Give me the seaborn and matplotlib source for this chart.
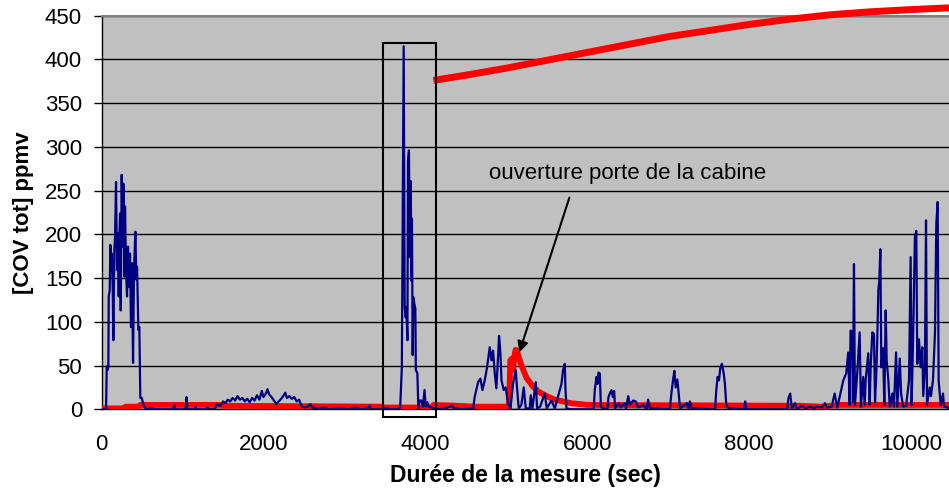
import pandas as pd
import matplotlib.pyplot as plt
import matplotlib.patches as patches
import seaborn as sns

# === DATA ===
# measured COV signal (blue), time in seconds
blue_t = [
    0, 56, 64, 76, 84, 89, 101, 109, 117, 126,
    138, 146, 158, 167, 179, 191, 204, 212, 220, 229,
    237, 249, 262, 270, 282, 290, 303, 315, 327, 340,
    352, 364, 377, 389, 401, 418, 430, 439, 447, 455,
    467, 479, 496, 513, 529, 558,
    600, 700, 880, 900, 910, 1040, 1050, 1060, 1150, 1160,
    1170, 1300, 1310, 1320, 1400, 1430, 1470, 1500, 1530, 1560,
    1590, 1620, 1650, 1680, 1710, 1740, 1770, 1800, 1830, 1860,
    1890, 1920, 1950, 1980, 2000, 2030, 2050, 2070, 2100, 2130,
    2160, 2190, 2220, 2250, 2270, 2290, 2320, 2350, 2380, 2410,
    2440, 2470, 2500, 2550, 2580, 2600, 2700, 2750, 2800, 2950,
    3050, 3150, 3200, 3280, 3310, 3330, 3450, 3500, 3600, 3680,
    3690, 3710, 3733, 3745, 3758, 3766, 3779, 3786, 3798, 3807,
    3820, 3828, 3835, 3844, 3852, 3864, 3877, 3883, 3902, 3914,
    3931, 3951, 3971, 3990, 4005, 4025, 4042, 4080, 4150, 4250,
    4330, 4360, 4450, 4560, 4590,
    4610, 4652, 4681, 4706, 4734, 4763, 4796, 4817, 4837, 4858,
    4878, 4899, 4911, 4928, 4941, 4969, 4993, 5022, 5052, 5084,
    5117, 5133, 5154, 5187, 5216, 5241, 5290, 5303, 5323, 5365,
    5381, 5418, 5476, 5500, 5558, 5600, 5682, 5702, 5723, 5731,
    5744,
    5800, 6080, 6094, 6115, 6127, 6139, 6156, 6169, 6190, 6250,
    6263, 6280, 6300, 6317, 6333, 6345, 6391, 6411, 6465, 6480,
    6507, 6527, 6568, 6600, 6630, 6692, 6733, 6753, 6774, 7020,
    7040, 7060, 7077, 7093, 7114, 7134, 7148, 7230, 7250, 7269,
    7290, 7580, 7595, 7611, 7628, 7644, 7664, 7685, 7701, 7718,
    7746, 7940, 7952, 7964, 8470, 8487, 8508, 8528, 8570, 8590,
    8652, 8700, 8755, 8800, 8835, 8900, 8937, 8960, 9020,
    9057, 9090, 9164, 9200, 9225, 9242, 9254, 9275, 9283, 9296,
    9308, 9336, 9366, 9382, 9410, 9428, 9440, 9461, 9473, 9490,
    9502, 9523, 9543, 9556, 9572, 9584, 9597, 9609, 9622, 9634,
    9655, 9671, 9688, 9700, 9721, 9738, 9770, 9790, 9816, 9832,
    9862, 9878, 9903, 9940, 9976, 9996, 10008, 10025, 10049, 10066,
    10078, 10099, 10119, 10140, 10152, 10173, 10186, 10198, 10231, 10247,
    10272, 10297, 10313, 10330, 10342, 10367, 10396, 10408, 10450, 10470,
]
blue_ppm = [
    0, 0, 49, 45, 49, 129, 136, 188, 159, 178,
    139, 79, 182, 197, 260, 159, 201, 129, 197, 224,
    113, 268, 186, 258, 152, 232, 159, 129, 186, 140,
    178, 94, 167, 53, 159, 203, 148, 163, 129, 91,
    94, 13, 13, 7, 3, 0,
    1, 0, 0, 5, 0, 0, 14, 0, 0, 3,
    0, 0, 2, 0, 0, 6, 4, 9, 7, 11,
    9, 13, 10, 15, 11, 13, 9, 12, 8, 13,
    10, 16, 11, 21, 14, 18, 23, 17, 14, 10,
    6, 9, 12, 16, 19, 13, 15, 12, 14, 9,
    11, 4, 2, 3, 6, 2, 1, 2, 0, 1,
    0, 2, 0, 1, 4, 0, 0, 1, 0, 0,
    3, 48, 415, 117, 105, 117, 79, 284, 296, 174,
    261, 147, 218, 62, 128, 121, 115, 45, 41, 1,
    10, 10, 3, 22, 3, 8, 3, 2, 0, 1,
    4, 1, 0, 1, 0,
    14, 31, 35, 22, 33, 48, 71, 56, 67, 41,
    24, 60, 84, 64, 33, 22, 25, 7, 1, 29,
    45, 25, 1, 5, 25, 1, 1, 16, 1, 31,
    1, 3, 18, 1, 10, 1, 29, 45, 52, 25,
    1,
    0, 0, 22, 37, 29, 42, 41, 3, 1, 0,
    14, 18, 22, 14, 21, 1, 7, 2, 7, 1,
    15, 5, 10, 9, 2, 5, 0, 11, 1, 0,
    18, 33, 44, 25, 34, 14, 1, 7, 1, 9,
    1, 0, 22, 37, 33, 47, 52, 42, 30, 5,
    1, 0, 9, 0, 0, 13, 18, 1, 7, 0,
    4, 1, 3, 1, 3, 2, 7, 2, 3,
    18, 2, 33, 41, 65, 5, 90, 88, 8, 166,
    5, 41, 88, 3, 37, 5, 33, 52, 64, 5,
    48, 88, 86, 8, 41, 81, 136, 147, 183, 48,
    70, 5, 113, 56, 33, 3, 18, 3, 65, 3,
    58, 18, 3, 4, 33, 174, 5, 75, 197, 204,
    52, 80, 48, 71, 15, 48, 216, 5, 25, 15,
    33, 88, 212, 237, 33, 5, 18, 3, 2, 1,
]

# red series near the floor, with the door-opening peak
red_low_t = [0, 260, 300, 460, 480, 1450, 1500, 3450, 3500, 4080, 4100, 4400, 4600,
             5030, 5040, 5050, 5070, 5085, 5100, 5115, 5135, 5180, 5250, 5330, 5400,
             5500, 5600, 5700, 5800, 5900, 6000, 8600, 8900, 9100, 10470]
red_low_ppm = [1, 1, 3, 3, 5, 5, 4, 3, 2, 2, 5, 4, 3,
               3, 20, 56, 58, 45, 60, 68, 66, 52, 36, 26, 20,
               15, 11, 9, 7, 6, 5, 4, 3, 5, 5]

# red rising curve on the right
red_high_t = [4100, 4500, 5000, 5500, 6000, 6500, 7000, 7500, 8000, 8500, 9000, 9500, 10000, 10470]
red_high_ppm = [376, 382, 390, 399, 408, 417, 426, 433, 440, 446, 451, 454.5, 457, 459]

assert len(blue_t) == len(blue_ppm)
assert len(red_low_t) == len(red_low_ppm)

sns.set_theme(style="white")
plt.rcParams['font.family'] = ['Liberation Sans', 'DejaVu Sans']
plt.rcParams['text.color'] = 'black'
plt.rcParams['axes.labelcolor'] = 'black'
plt.rcParams['xtick.color'] = 'black'
plt.rcParams['ytick.color'] = 'black'

fig = plt.figure(figsize=(9.49, 4.94), dpi=100)
ax = fig.add_axes([0.107, 0.1715, 0.893, 0.7967])
ax.set_facecolor('#C0C0C0')

blue = pd.DataFrame({'t': blue_t, 'ppm': blue_ppm})
low = pd.DataFrame({'t': red_low_t, 'ppm': red_low_ppm})
high = pd.DataFrame({'t': red_high_t, 'ppm': red_high_ppm})

sns.lineplot(data=low, x='t', y='ppm', ax=ax, color='#FF0000', lw=4.2,
             estimator=None, sort=False, zorder=3)
sns.lineplot(data=blue, x='t', y='ppm', ax=ax, color='#000080', lw=1.6,
             estimator=None, sort=False, zorder=4)
sns.lineplot(data=high, x='t', y='ppm', ax=ax, color='#FF0000', lw=5,
             estimator=None, sort=False, zorder=4)
ax.lines[-1].set_clip_on(False)
ax.lines[-1].set_solid_capstyle('butt')

ax.set_xlim(0, 10470)
ax.set_ylim(0, 450)
ax.set_yticks(range(0, 451, 50))
ax.set_xticks(range(0, 10001, 2000))
ax.yaxis.grid(True, color='black', lw=1)
ax.xaxis.grid(False)
ax.set_axisbelow(True)

ax.spines['right'].set_visible(False)
ax.spines['top'].set_color('#808080')
ax.spines['top'].set_linewidth(1.5)
ax.spines['left'].set_color('black')
ax.spines['left'].set_linewidth(1)
ax.spines['bottom'].set_color('black')
ax.spines['bottom'].set_linewidth(1)

ax.tick_params(axis='y', direction='out', length=6, width=1, color='black',
               labelcolor='black', pad=8, labelsize=16, left=True)
ax.tick_params(axis='x', length=0, pad=18, labelsize=16, labelcolor='black')

ax.set_xlabel('Durée de la mesure (sec)', fontsize=16.5, fontweight='bold', color='black')
ax.set_ylabel('[COV tot] ppmv', fontsize=16, fontweight='bold', color='black')
ax.xaxis.label.set_va('center')
ax.yaxis.label.set_va('center')
ax.xaxis.set_label_coords(0.5, -0.167)
ax.yaxis.set_label_coords(-0.092, 0.5)

# box around the big peak
rect = patches.Rectangle((3481, -8.8), 656, 427.4, fill=False, ec='black',
                         lw=1.5, clip_on=False, zorder=6)
ax.add_patch(rect)

# annotation
ax.text(4787, 270, 'ouverture porte de la cabine', fontsize=16, va='center',
        ha='left', color='black')
ax.annotate('', xy=(5161, 65), xytext=(5780, 242),
            arrowprops=dict(arrowstyle='-|>', color='black', lw=1.5,
                            mutation_scale=16, shrinkA=0, shrinkB=0))

fig.savefig('out.png', dpi=100)
